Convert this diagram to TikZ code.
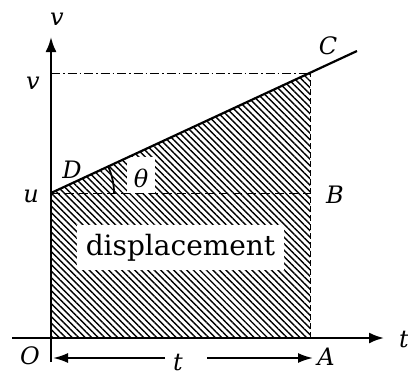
\documentclass[tikz,border=0pt]{standalone}
\usepackage{graphicx}
\usepackage{fontspec}
\setmainfont{DejaVu Serif}
\usetikzlibrary{patterns.meta,arrows.meta}
\begin{document}
\begin{tikzpicture}[x=1pt,y=-1pt,
  lbl/.style={font=\fontsize{24}{26}\selectfont\itshape, inner sep=0pt},
  axisline/.style={line width=2.2pt, -{Latex[length=15pt,width=11pt]}},
  darrow/.style={line width=2pt, -{Latex[length=15pt,width=10pt]}},
  guide/.style={line width=0.9pt},
  hatch/.style={pattern={Lines[angle=-45,distance=4.6pt,line width=1.4pt]}}]
\useasboundingbox (0,0) rectangle (408,376);
% key points
\coordinate (O) at (51,338);
\coordinate (D) at (51,193);
\coordinate (B) at (310,193);
\coordinate (V) at (51,73);
\coordinate (Cp) at (310,73);
\coordinate (A) at (310,338);
\coordinate (Cend) at (357,51);
\coordinate (Ytop) at (51,37);
\coordinate (Ybot) at (51,362);
\coordinate (Tleft) at (12,338);
\coordinate (Tright) at (384,338);
\coordinate (Al) at (53,358);
\coordinate (Ar) at (313,358);
\coordinate (Lgap) at (165,358);
\coordinate (Rgap) at (207,358);
% hatched area
\fill[hatch] (O) -- (D) -- (Cp) -- (A) -- cycle;
% white label boxes
\node[fill=white, inner sep=0pt, minimum width=207pt, minimum height=45pt] (disp) at (180.5,247.5)
  {\fontsize{28}{30}\selectfont displacement};
\node[fill=white, inner sep=0pt, minimum width=28pt, minimum height=36pt] (thbox) at (141,175) {};
\node[lbl] (theta) at (141,178) {θ};
% guide lines
\draw[guide, dash pattern=on 9pt off 5pt] (D) -- (B);
\draw[guide, dash pattern=on 6pt off 3pt] (A) -- (Cp);
\draw[guide, dash pattern=on 9pt off 3pt on 1.5pt off 3pt] (V) -- (Cp);
% velocity line
\draw[line width=2.2pt] (D) -- (Cend);
% angle arc
\draw[line width=1.8pt] (D) ++(63,0) arc[start angle=0, end angle=-25.1, radius=63];
% axes
\draw[axisline] (Ybot) -- (Ytop);
\draw[axisline] (Tleft) -- (Tright);
% t interval arrows
\draw[darrow] (Lgap) -- (Al);
\draw[darrow] (Rgap) -- (Ar);
% labels
\node[lbl] (vax) at (57,19) {v};
\node[lbl] (vlab) at (33,83) {v};
\node[lbl] (ulab) at (31,196) {u};
\node[lbl] (Dlab) at (72,170) {D};
\node[lbl] (Blab) at (335,195) {B};
\node[lbl] (Clab) at (328,46) {C};
\node[lbl] (Olab) at (30,356) {O};
\node[lbl] (Alab) at (326,357) {A};
\node[lbl] (tlab) at (178,363) {t};
\node[lbl, anchor=west] (tax) at (399,340) {t};
\end{tikzpicture}
\end{document}
